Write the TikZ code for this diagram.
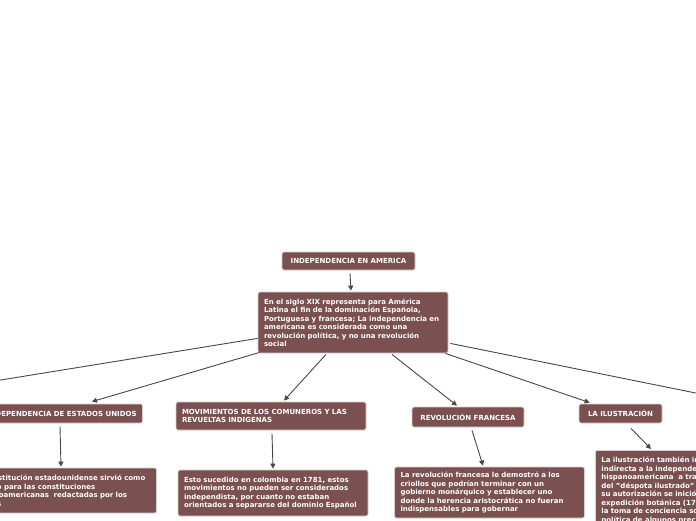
\documentclass[tikz,border=0pt]{standalone}
\usepackage{fontspec}
\setmainfont{DejaVu Sans}
\usetikzlibrary{calc,arrows.meta}
\definecolor{boxfill}{HTML}{7A5050}
\definecolor{boxline}{HTML}{D8D0D0}
\definecolor{conn}{HTML}{474747}
\tikzset{
  box/.style={fill=boxfill, draw=boxline, line width=0.8pt, rounded corners=2pt,
    text=white, font=\bfseries\fontsize{7}{8.5}\selectfont},
  headbox/.style={box, align=center, inner xsep=6pt, inner ysep=0pt},
  textbox/.style={box, align=left, text width=178pt, inner xsep=6pt, inner ysep=0pt, minimum width=190pt},
  conn/.style={draw=conn, line width=0.9pt, -{Triangle[length=5pt,width=5pt]}}
}
\begin{document}
\begin{tikzpicture}[x=1pt,y=-1pt]
\useasboundingbox (0,0) rectangle (696,520);
\clip (0,0) rectangle (696,520);
\node[headbox, minimum width=133pt, minimum height=18pt] (t) at (348.5,261) {INDEPENDENCIA EN AMERICA};
\node[textbox, minimum height=61pt] (m) at (353,322.5) {En el siglo XIX representa para América\\Latina el fin de la dominación Española,\\Portuguesa y francesa; La independencia en\\americana es considerada como una\\revolución política, y no una revolución\\social};
\node[headbox, minimum height=19pt, anchor=east] (a1) at (143,413.5) {INDEPENDENCIA DE ESTADOS UNIDOS};
\node[textbox, minimum height=45pt, anchor=east] (a2) at (157,490.5) {La constitución estadounidense sirvió como\\modelo para las constituciones\\hispanoamericanas\ \ redactadas por los\\criollos};
\node[textbox, minimum height=28pt] (b1) at (271,416) {MOVIMIENTOS DE LOS COMUNEROS Y LAS\\REVUELTAS INDIGENAS};
\node[textbox, minimum height=46pt] (b2) at (273,493) {Esto sucedido en colombia en 1781, estos\\movimientos no pueden ser considerados\\independista, por cuanto no estaban\\orientados a separarse del dominio Español};
\node[headbox, minimum width=112pt, minimum height=20pt] (c1) at (468,417) {REVOLUCIÓN FRANCESA};
\node[textbox, minimum width=189pt, minimum height=51pt] (c2) at (489.5,492.5) {La revolución francesa le demostró a los\\criollos que podrían terminar con un\\gobierno monárquico y establecer uno\\donde la herencia aristocrática no fueran\\indispensables para gobernar};
\node[headbox, minimum width=83pt, minimum height=19pt] (d1) at (620.5,413.5) {LA ILUSTRACIÓN};
\node[textbox, minimum height=80pt, anchor=north west] (d2) at (595,450) {La ilustración también influyó de forma\\indirecta a la independencia\\hispanoamericana\ \ a través\\del "déspota ilustrado" que con\\su autorización se inició la\\expedición botánica (1783) y\\la toma de conciencia social y\\política de algunos precursores};
\coordinate (L) at (-100,396.3);
\coordinate (R) at (800,414.1);
\draw[conn] (t.south) ++(1.5,3) -- ($(m.north)+(-2,-1)$);
\draw[conn] ($(m.south west)+(0,-15)$) -- (L);
\draw[conn] ($(m.south west)+(2,-1)$) -- ($(a1.north east)+(-51,-2)$);
\draw[conn] ($(a1.south east)+(-83,3)$) -- ($(a2.north east)+(-96,-1)$);
\draw[conn] ($(m.south)+(-27,1)$) -- ($(b1.north)+(13,-1)$);
\draw[conn] ($(b1.south)+(1,3)$) -- ($(b2.north)+(0,-1)$);
\draw[conn] ($(m.south)+(39,1)$) -- ($(c1.north)+(-11,-1)$);
\draw[conn] ($(c1.south)+(4,3)$) -- ($(c2.north)+(-6.5,-1)$);
\draw[conn] ($(m.south east)+(-3,0)$) -- ($(d1.north west)+(11,-1)$);
\draw[conn] ($(d1.south)+(10.5,5)$) -- ($(d2.north west)+(56,-1)$);
\draw[conn] ($(m.south east)+(2,-10)$) -- (R);
\end{tikzpicture}
\end{document}
